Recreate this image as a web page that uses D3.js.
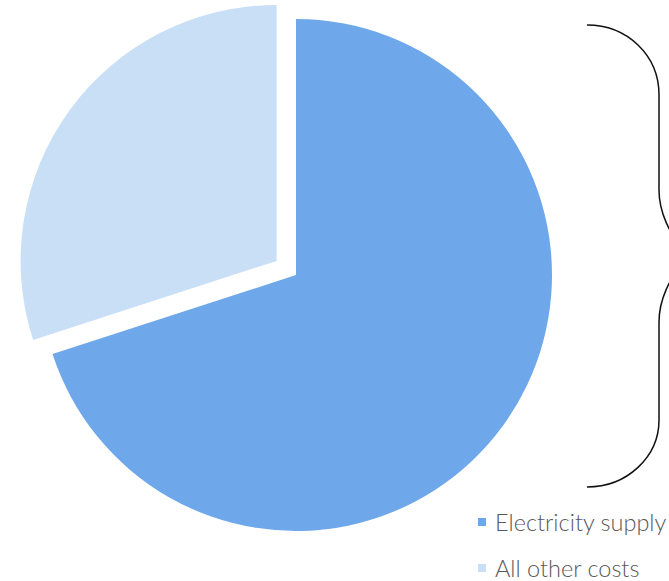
<!DOCTYPE html>
<html>
<head>
<meta charset="utf-8">
<script src="https://cdn.jsdelivr.net/npm/d3@7"></script>
<style>
  body { margin: 0; background: #fff; }
  svg { display: block; }
  .legend text { font-family: Lato, "Open Sans", sans-serif; font-weight: 300; }
</style>
</head>
<body>
<script>
// data
const categories = ["Electricity supply", "All other costs"];
const shares = [70, 30];
const colors = ["#6ea8ea", "#c9dff6"];

const width = 669, height = 581;
const cx = 296, cy = 275, radius = 256;
const explode = 24;

const svg = d3.select("body").append("svg")
  .attr("width", width)
  .attr("height", height);

const pie = d3.pie().sort(null).value(d => d)(shares);
const arc = d3.arc().innerRadius(0).outerRadius(radius);

const pieGroup = svg.append("g")
  .attr("transform", `translate(${cx},${cy})`);

pieGroup.selectAll("path.slice")
  .data(pie)
  .enter().append("path")
  .attr("class", "slice")
  .attr("d", arc)
  .attr("fill", (d, i) => colors[i])
  .attr("transform", (d, i) => {
    if (i === 0) return null;
    // pull the smaller slice outwards
    const mid = (d.startAngle + d.endAngle) / 2;
    return `translate(${Math.sin(mid) * explode},${-Math.cos(mid) * explode})`;
  });

// curly brace on the right
const brace = d3.path();
brace.moveTo(587, 25);
brace.bezierCurveTo(627, 25, 659, 55, 659, 95);
brace.lineTo(659, 190);
brace.bezierCurveTo(659, 210, 668, 235, 690, 256);
brace.bezierCurveTo(668, 277, 659, 302, 659, 322);
brace.lineTo(659, 420);
brace.bezierCurveTo(659, 457, 627, 487, 587, 487);

svg.append("path")
  .attr("d", brace.toString())
  .attr("fill", "none")
  .attr("stroke", "#111")
  .attr("stroke-width", 1.5);

// legend
const legend = svg.selectAll(".legend")
  .data(categories)
  .enter().append("g")
  .attr("class", "legend")
  .attr("transform", (d, i) => `translate(478,${518 + i * 46})`);

legend.append("rect")
  .attr("width", 8)
  .attr("height", 8)
  .attr("fill", (d, i) => colors[i]);

legend.append("text")
  .attr("x", 17)
  .attr("y", 13)
  .attr("fill", "#595959")
  .style("font-size", "23.5px")
  .text(d => d);
</script>
</body>
</html>
